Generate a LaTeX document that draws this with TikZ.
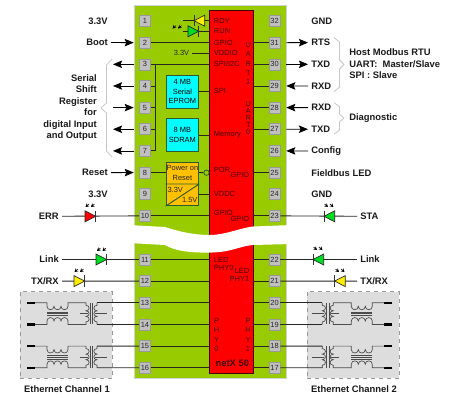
\documentclass[tikz,border=0pt]{standalone}
\usepackage{fontspec}
\usepackage{tkz-euclide}
\usetikzlibrary{arrows.meta}
\setmainfont{Liberation Sans}
\newcommand{\smalltxt}{\fontsize{5.6}{7}\selectfont}
\newcommand{\boldtxt}{\fontsize{7.05}{8.6}\selectfont\bfseries}
\definecolor{boardgreen}{HTML}{99CC00}
\definecolor{pingray}{HTML}{C0C0C0}
\definecolor{ethgray}{HTML}{DDDDDD}
\definecolor{wiregray}{HTML}{262626}
\definecolor{boxline}{HTML}{2F5A2F}
\definecolor{ledgreen}{HTML}{00DD22}
\definecolor{ledyellow}{HTML}{FFEE00}
\definecolor{poweryellow}{HTML}{FFC000}
\definecolor{memcyan}{HTML}{00FFFF}
\definecolor{chipred}{HTML}{FF0000}
\definecolor{chiptext}{HTML}{400000}
\tikzset{
    padbox/.style={draw=gray!80,fill=pingray,minimum size=8.25pt,inner sep=0pt,font=\smalltxt,text=black!85},
    wire/.style={draw=wiregray,line width=.65pt},
    arrowwire/.style={draw=black,line width=.6pt,-{Stealth[length=6.8pt,width=5.6pt,inset=1.2pt]}},
    leftlbl/.style={anchor=east,font=\boldtxt,text=black!90,inner sep=2.25pt},
    rightlbl/.style={anchor=west,font=\boldtxt,text=black!90,inner sep=2.25pt},
    chiplbl/.style={font=\smalltxt,text=chiptext,inner sep=0pt},
    greenlbl/.style={font=\smalltxt,text=black!85,inner sep=2.25pt},
    membox/.style={draw=boxline,line width=.7pt,fill=memcyan,minimum width=24.5pt,minimum height=24.75pt,inner sep=0pt,align=center,font=\smalltxt},
    bracket/.style={draw=gray!45,line width=.6pt,line join=round},
    ethbox/.style={draw=gray!80,dashed,fill=ethgray,minimum width=69.2pt,minimum height=65pt},
    led/.pic={
        \draw[wiregray,line width=.5pt,fill=#1] (0,-5.5) -- (10.7,0) -- (0,5.5) -- cycle;
        \draw[black!80,line width=.6pt] (10.7,-5.7) -- (10.7,5.7);
    },
    rays/.pic={
        \foreach \d in {0,5.5} {
            \draw[black,line width=.45pt,-{Stealth[length=2.6pt,width=3pt]}] (\d+3.5,-3) -- (\d,0);
        }
    },
    coupler/.pic={
        \draw[line width=1.6pt,black] (0,0) -- (8,0) (0,21.65) -- (8,21.65);
        \draw[draw=black!70,line width=.5pt] (8,0) -- (20,0) -- (20,3.5)
            .. controls +(0,4.5) and +(0,4.5) .. (27,3.5)
            .. controls +(0,4.5) and +(0,4.5) .. (34,3.5)
            .. controls +(0,4.5) and +(0,4.5) .. (41,3.5) -- (41,0) -- (59,0) -- (59,2.5)
            .. controls +(4.2,0) and +(4.2,0) .. (59,8)
            .. controls +(4.2,0) and +(4.2,0) .. (59,13.6)
            .. controls +(4.2,0) and +(4.2,0) .. (59,19.15) -- (59,21.65) -- (41,21.65) -- (41,18.15)
            .. controls +(0,-4.5) and +(0,-4.5) .. (34,18.15)
            .. controls +(0,-4.5) and +(0,-4.5) .. (27,18.15)
            .. controls +(0,-4.5) and +(0,-4.5) .. (20,18.15) -- (20,21.65) -- (8,21.65);
        \draw[draw=black!70,line width=.5pt] (70,0) -- (70,2.5)
            .. controls +(-4.2,0) and +(-4.2,0) .. (70,8)
            .. controls +(-4.2,0) and +(-4.2,0) .. (70,13.6)
            .. controls +(-4.2,0) and +(-4.2,0) .. (70,19.15) -- (70,21.65);
        \draw[draw=black!70,line width=.5pt] (53,10.8) -- (61,10.8) (68,10.8) -- (80,10.8)
            (63,0) -- (63,21.65) (65.7,0) -- (65.7,21.65)
            (20,9.2) -- (41,9.2) (20,11) -- (41,11) (20,12.8) -- (41,12.8);
        \coordinate (-top) at (70,0);
        \coordinate (-bot) at (70,21.65);
    }
}
\begin{document}
\begin{tikzpicture}[x=.75pt,y=-.75pt]
    \useasboundingbox (0,0) rectangle (461,397);
    \tkzDefPoints{155.3/64/bus,113/64/brc,183/20/ledend}
    \node[draw=gray!35,fill=boardgreen,minimum width=114pt,minimum height=279.75pt] (board) at (210,191.5) {};
    \node[draw=black!75!red,line width=.6pt,fill=chipred,minimum width=32.6pt,minimum height=272.25pt] (chip) at (231.2,191.5) {};
    \fill[white] (128,225) -- (165,227) .. controls (180,232) and (195,235) .. (210,235)
        .. controls (225,235) and (240,228) .. (253,226.5) -- (292,225) -- (292,244) -- (253,245)
        .. controls (240,246) and (232,252) .. (212,252.5)
        .. controls (190,253) and (175,251) .. (165,245) -- (128,243) -- cycle;
    \node[ethbox] (etha) at (66.2,335) {};
    \node[ethbox] (ethb) at (353.2,335) {};
    \foreach \n in {1,...,10} \node[padbox] (p\n) at (145,{21+(\n-1)*21.65}) {\n};
    \foreach \n in {11,...,16} \node[padbox] (p\n) at (145,{259.5+(\n-11)*21.65}) {\n};
    \foreach \n in {23,...,32} \node[padbox] (p\n) at (274.6,{21+(32-\n)*21.65}) {\n};
    \foreach \n in {17,...,22} \node[padbox] (p\n) at (274.6,{259.5+(22-\n)*21.65}) {\n};
    \node[membox] (eprom) at (182.4,91.5) {4 MB\\[.2pt]Serial\\[.2pt]EPROM};
    \node[membox] (sdram) at (182.4,135) {8 MB\\[.2pt]SDRAM};
    \node[membox,fill=poweryellow,minimum height=32.55pt] (por) at (182.4,184) {};
    \node[chiplbl,text=black!85,align=center] (porlbl) at (182.4,173) {Power on\\[.2pt]Reset};
    \node[chiplbl,text=black!85,anchor=west] (porin) at (167.3,189.5) {3.3V};
    \node[chiplbl,text=black!85,anchor=east] (porout) at (197.7,200) {1.5V};
    \draw[draw=boxline,line width=.7pt] (por.west) -- (por.east) (por.south west) -- (por.east);
    \node[circle,draw=boxline,line width=.6pt,minimum size=4pt,inner sep=0pt] (inv) at (206.5,172.7) {};
    \node[chiplbl,anchor=west] (lrdy) at (213.7,20.7) {RDY};
    \node[chiplbl,anchor=west] (lrun) at (213.7,31.3) {RUN};
    \node[chiplbl,anchor=west] (lgpio) at (213.7,42.5) {GPIO};
    \node[chiplbl,anchor=west] (lvdd) at (213.7,53.3) {VDDIO};
    \node[chiplbl,anchor=west] (lspi) at (213.7,64) {SPI/I2C};
    \node[chiplbl,anchor=west] (lspib) at (213.7,91) {SPI};
    \node[chiplbl,anchor=west] (lmem) at (213.7,134.7) {Memory};
    \node[chiplbl,anchor=west] (lpor) at (213.7,170) {POR};
    \node[chiplbl,anchor=west] (lvddc) at (213.7,194) {VDDC};
    \node[chiplbl,anchor=west] (lgpa) at (213.7,212.7) {GPIO};
    \node[chiplbl,anchor=east] (lgpb) at (249.5,175) {GPIO};
    \node[chiplbl,anchor=east] (lgpc) at (249.5,218.7) {GPIO};
    \node[chiplbl,anchor=west,align=left,font=\fontsize{5.6}{6.2}\selectfont] (lphya) at (213.7,264.2) {LED\\PHY0};
    \node[chiplbl,anchor=east,align=right,font=\fontsize{5.6}{6.2}\selectfont] (lphyb) at (249.5,275.2) {LED\\PHY1};
    \node[chiplbl,align=center] (uarta) at (248.3,63.7) {U\\A\\R\\T\\1};
    \node[chiplbl,align=center,font=\fontsize{5.6}{5.25}\selectfont] (uartb) at (248.3,117.5) {U\\A\\R\\T\\0};
    \node[chiplbl,align=center] (phya) at (216.5,335) {P\\H\\Y\\0};
    \node[chiplbl,align=center] (phyb) at (248,335) {P\\H\\Y\\1};
    \node[font=\boldtxt,text=chiptext,inner sep=0pt] (netx) at (232.3,363.3) {netX 50};
    \node[greenlbl] (vio) at (181.5,53.3) {3.3V};
    \node[leftlbl] (lthree) at (111,21) {3.3V};
    \node[leftlbl] (lboot) at (111,42.5) {Boot};
    \node[leftlbl] (lreset) at (111,172.7) {Reset};
    \node[leftlbl] (lthreeb) at (111,194) {3.3V};
    \node[leftlbl] (lerr) at (62,216.3) {ERR};
    \node[leftlbl] (llink) at (62,259.5) {Link};
    \node[leftlbl] (ltx) at (62,281.1) {TX/RX};
    \node[leftlbl,align=right] (lshift) at (100,107.6) {Serial\\Shift\\Register\\for\\digital Input\\and Output};
    \node[rightlbl] (rgnd) at (308,21) {GND};
    \node[rightlbl] (rrts) at (308,42.6) {RTS};
    \node[rightlbl] (rtxd) at (308,64.3) {TXD};
    \node[rightlbl] (rrxd) at (308,86) {RXD};
    \node[rightlbl] (rrxdb) at (308,107.6) {RXD};
    \node[rightlbl] (rtxdb) at (308,129.2) {TXD};
    \node[rightlbl] (rconf) at (308,151) {Config};
    \node[rightlbl] (rfield) at (308,172.7) {Fieldbus LED};
    \node[rightlbl] (rgndb) at (308,194) {GND};
    \node[rightlbl] (rsta) at (357,216.3) {STA};
    \node[rightlbl] (rlink) at (357,259.5) {Link};
    \node[rightlbl] (rtx) at (357,281.1) {TX/RX};
    \node[rightlbl,align=left] (rhost) at (346,64) {Host Modbus RTU\\UART:~~Master/Slave\\SPI : Slave};
    \node[rightlbl] (rdiag) at (346,118) {Diagnostic};
    \node[font=\boldtxt,text=black!90,inner sep=0pt] (etaname) at (67,389) {Ethernet Channel 1};
    \node[font=\boldtxt,text=black!90,inner sep=0pt] (etbname) at (354,389) {Ethernet Channel 2};
    \draw[bracket] (112,59) -- (106.5,65) -- (106.5,103) -- (101,108) -- (106.5,113) -- (106.5,151) -- (112,157);
    \draw[bracket] (334,37.5) -- (339.5,42) -- (339.5,60) -- (344,64.5) -- (339.5,69) -- (339.5,87) -- (334,91.7);
    \draw[bracket] (334,102.7) -- (339.5,106.7) -- (339.5,114) -- (344,118) -- (339.5,122) -- (339.5,130) -- (334,134.3);
    \foreach \n in {2,3,10,11,12,13,14,15,16} \draw[wire] (p\n) -- (p\n -| chip.west);
    \foreach \n in {17,18,19,20,21,22,23,25,27,28,29,30,31} \draw[wire] (p\n) -- (p\n -| chip.east);
    \foreach \n in {4,5,6,7} \draw[wire] (p\n) -- (p\n -| bus);
    \draw[wire] (p3 -| bus) -- (p7 -| bus);
    \draw[wire] (eprom) -- (eprom -| chip.west);
    \draw[wire] (sdram) -- (sdram -| chip.west);
    \draw[wire] (p8) -- (p8 -| por.west);
    \draw[wire] (p8 -| por.east) -- (inv);
    \draw[wire] (p9 -| por.east) -- (p9 -| chip.west);
    \draw[wire] (vio) -- (vio -| chip.west);
    \draw[wire] (ledend |- lrdy) -- (lrdy -| chip.west);
    \draw[wire] (ledend |- lrun) -- (lrun -| chip.west);
    \draw[wire] (lerr) -- (p10);
    \draw[wire] (llink) -- (p11);
    \draw[wire] (ltx) -- (p12);
    \draw[wire] (p23) -- (rsta);
    \draw[wire] (p22) -- (rlink);
    \draw[wire] (p21) -- (rtx);
    \draw[arrowwire] (lboot) -- (p2 -| board.west);
    \draw[arrowwire] (lreset) -- (p8 -| board.west);
    \draw[arrowwire] (p3 -| board.west) -- (brc |- p3);
    \draw[arrowwire] (p4 -| board.west) -- (brc |- p4);
    \draw[arrowwire] (brc |- p5) -- (p5 -| board.west);
    \draw[arrowwire] (p6 -| board.west) -- (brc |- p6);
    \draw[arrowwire] (p7 -| board.west) -- (brc |- p7);
    \draw[arrowwire] (p31 -| board.east) -- (rrts);
    \draw[arrowwire] (p30 -| board.east) -- (rtxd);
    \draw[arrowwire] (rrxd) -- (p29 -| board.east);
    \draw[arrowwire] (rrxdb) -- (p28 -| board.east);
    \draw[arrowwire] (p27 -| board.east) -- (rtxdb);
    \draw[arrowwire] (rconf) -- (p26 -| board.east);
    \pic[xscale=-1] at (204.7,20.7) {led=ledyellow};
    \pic at (188,31.3) {led=ledgreen};
    \pic at (85,216.3) {led=chipred};
    \pic at (96,259.5) {led=ledgreen};
    \pic at (74,281.1) {led=ledyellow};
    \pic[xscale=-1] at (334.7,216.3) {led=ledgreen};
    \pic[xscale=-1] at (323.7,259.5) {led=ledgreen};
    \pic[xscale=-1] at (345.3,281.1) {led=ledyellow};
    \pic at (172.5,28.5) {rays};
    \pic at (85.5,207) {rays};
    \pic at (97,251) {rays};
    \pic at (74.5,272) {rays};
    \pic[xscale=-1] at (333.5,207) {rays};
    \pic[xscale=-1] at (322.5,250) {rays};
    \pic[xscale=-1] at (344.5,272) {rays};
    \pic (xa) at (27,302.8) {coupler};
    \pic (xb) at (27,346.1) {coupler};
    \pic[xscale=-1] (xc) at (392.3,302.8) {coupler};
    \pic[xscale=-1] (xd) at (392.3,346.1) {coupler};
    \draw[wire] (p13) -- (xa-top);
    \draw[wire] (p14) -- (xa-bot);
    \draw[wire] (p15) -- (xb-top);
    \draw[wire] (p16) -- (xb-bot);
    \draw[wire] (p20) -- (xc-top);
    \draw[wire] (p19) -- (xc-bot);
    \draw[wire] (p18) -- (xd-top);
    \draw[wire] (p17) -- (xd-bot);
\end{tikzpicture}
\end{document}
